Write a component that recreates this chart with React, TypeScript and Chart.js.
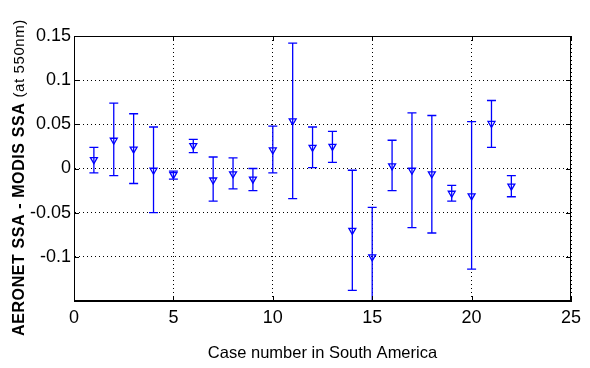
import React, { useEffect, useRef } from "react";
import { Chart, registerables } from "chart.js";

Chart.register(...registerables);

// ---- Data ----
const caseNumbers = [1, 2, 3, 4, 5, 6, 7, 8, 9, 10, 11, 12, 13, 14, 15, 16, 17, 18, 19, 20, 21, 22];
const ssaDiff = [0.010, 0.032, 0.022, -0.002, -0.007, 0.026, -0.013, -0.006, -0.012, 0.021, 0.054, 0.024, 0.025, -0.070, -0.100, 0.003, -0.002, -0.006, -0.028, -0.031, 0.051, -0.020];
const errUpper = [0.024, 0.074, 0.062, 0.047, -0.003, 0.033, 0.013, 0.012, 0.000, 0.048, 0.142, 0.047, 0.042, -0.002, -0.044, 0.032, 0.063, 0.060, -0.019, 0.053, 0.077, -0.008];
const errLower = [-0.005, -0.008, -0.017, -0.050, -0.012, 0.018, -0.037, -0.023, -0.025, -0.005, -0.034, 0.001, 0.007, -0.138, -0.156, -0.025, -0.067, -0.073, -0.037, -0.114, 0.024, -0.032];
const xTicks = [0, 5, 10, 15, 20, 25];
const yTicks = [-0.15, -0.1, -0.05, 0, 0.05, 0.1, 0.15];
const yTickLabels = ["", "-0.1", "-0.05", "0", "0.05", "0.1", "0.15"];
const xTitle = "Case number in South America";
const yTitleMain = "AERONET SSA - MODIS SSA";
const yTitleSub = "(at 550nm)";

const FONT = "'Liberation Sans', Arial, Helvetica, sans-serif";
const BLUE = "#0000ff";

const errorBarPlugin = {
  id: "errorBars",
  beforeDatasetsDraw(chart: any) {
    const { ctx, chartArea, scales } = chart;
    const xs = scales.x;
    const ys = scales.y;
    ctx.save();
    ctx.beginPath();
    ctx.rect(chartArea.left, chartArea.top, chartArea.right - chartArea.left, chartArea.bottom - chartArea.top);
    ctx.clip();
    ctx.strokeStyle = BLUE;
    ctx.lineWidth = 1.3;
    const half = 4.5;
    caseNumbers.forEach((c, i) => {
      const x = xs.getPixelForValue(c);
      const yU = ys.getPixelForValue(errUpper[i]);
      const yL = ys.getPixelForValue(errLower[i]);
      ctx.beginPath();
      ctx.moveTo(x, yU);
      ctx.lineTo(x, yL);
      ctx.moveTo(x - half, yU);
      ctx.lineTo(x + half, yU);
      ctx.moveTo(x - half, yL);
      ctx.lineTo(x + half, yL);
      ctx.stroke();
    });
    ctx.restore();
  },
};

const boxPlugin = {
  id: "matlabBox",
  afterDraw(chart: any) {
    const { ctx, chartArea, scales } = chart;
    const { left, right, top, bottom } = chartArea;
    ctx.save();
    ctx.strokeStyle = "#000";
    ctx.lineWidth = 1;
    ctx.strokeRect(left + 0.5, top + 0.5, right - left - 1, bottom - top - 1);
    const tl = 5;
    ctx.beginPath();
    xTicks.forEach((v) => {
      const x = Math.round(scales.x.getPixelForValue(v)) + 0.5;
      ctx.moveTo(x, bottom);
      ctx.lineTo(x, bottom - tl);
      ctx.moveTo(x, top);
      ctx.lineTo(x, top + tl);
    });
    yTicks.forEach((v) => {
      const y = Math.round(scales.y.getPixelForValue(v)) + 0.5;
      ctx.moveTo(left, y);
      ctx.lineTo(left + tl, y);
      ctx.moveTo(right, y);
      ctx.lineTo(right - tl, y);
    });
    ctx.stroke();

    // y-axis title (rotated)
    ctx.translate(20, 336);
    ctx.rotate(-Math.PI / 2);
    ctx.fillStyle = "#000";
    ctx.textBaseline = "middle";
    ctx.textAlign = "left";
    (ctx as any).letterSpacing = "0.6px";
    ctx.font = `bold 16px ${FONT}`;
    const mainText = yTitleMain + " ";
    ctx.fillText(mainText, 0, 0);
    const w = ctx.measureText(mainText).width;
    ctx.font = `15px ${FONT}`;
    ctx.fillText(yTitleSub, w, 0);
    ctx.restore();
  },
};

export default function App() {
  const canvasRef = useRef<HTMLCanvasElement | null>(null);

  useEffect(() => {
    const canvas = canvasRef.current;
    if (!canvas) return;
    const chart = new Chart(canvas, {
      type: "scatter",
      data: {
        datasets: [
          {
            data: caseNumbers.map((x, i) => ({ x, y: ssaDiff[i] })),
            pointStyle: "triangle",
            rotation: 180,
            radius: 4,
            borderColor: BLUE,
            backgroundColor: "rgba(0,0,0,0)",
            borderWidth: 1.3,
            showLine: false,
          } as any,
        ],
      },
      plugins: [errorBarPlugin, boxPlugin],
      options: {
        responsive: false,
        animation: false,
        devicePixelRatio: 1,
        layout: { padding: { top: 36, right: 19, left: 0, bottom: 0 } },
        plugins: { legend: { display: false }, tooltip: { enabled: false } },
        scales: {
          x: {
            type: "linear",
            position: "bottom",
            min: 0,
            max: 25,
            afterBuildTicks: (s: any) => {
              s.ticks = xTicks.map((v) => ({ value: v }));
            },
            afterFit: (s: any) => {
              s.height = 67;
            },
            ticks: {
              color: "#000",
              font: { family: FONT, size: 18 },
              padding: 6,
              maxRotation: 0,
              autoSkip: false,
            },
            grid: { color: "#000", lineWidth: 1, drawTicks: false },
            border: { display: true, color: "#000", dash: [1, 3] },
            title: {
              display: true,
              text: xTitle,
              color: "#000",
              font: { family: FONT, size: 16.5 },
              padding: { top: 0, bottom: 5 },
            },
          },
          y: {
            type: "linear",
            min: -0.15,
            max: 0.15,
            afterBuildTicks: (s: any) => {
              s.ticks = yTicks.map((v) => ({ value: v }));
            },
            afterFit: (s: any) => {
              s.width = 74;
            },
            ticks: {
              color: "#000",
              font: { family: FONT, size: 18 },
              padding: 3,
              autoSkip: false,
              callback: (_v: any, idx: number) => yTickLabels[idx],
            },
            grid: { color: "#000", lineWidth: 1, drawTicks: false },
            border: { display: true, color: "#000", dash: [1, 3] },
          },
        },
      } as any,
    });
    return () => chart.destroy();
  }, []);

  return (
    <div style={{ position: "absolute", left: 0, top: 0, width: 590, height: 368, background: "#fff" }}>
      <canvas ref={canvasRef} width={590} height={368} style={{ display: "block" }} />
    </div>
  );
}
